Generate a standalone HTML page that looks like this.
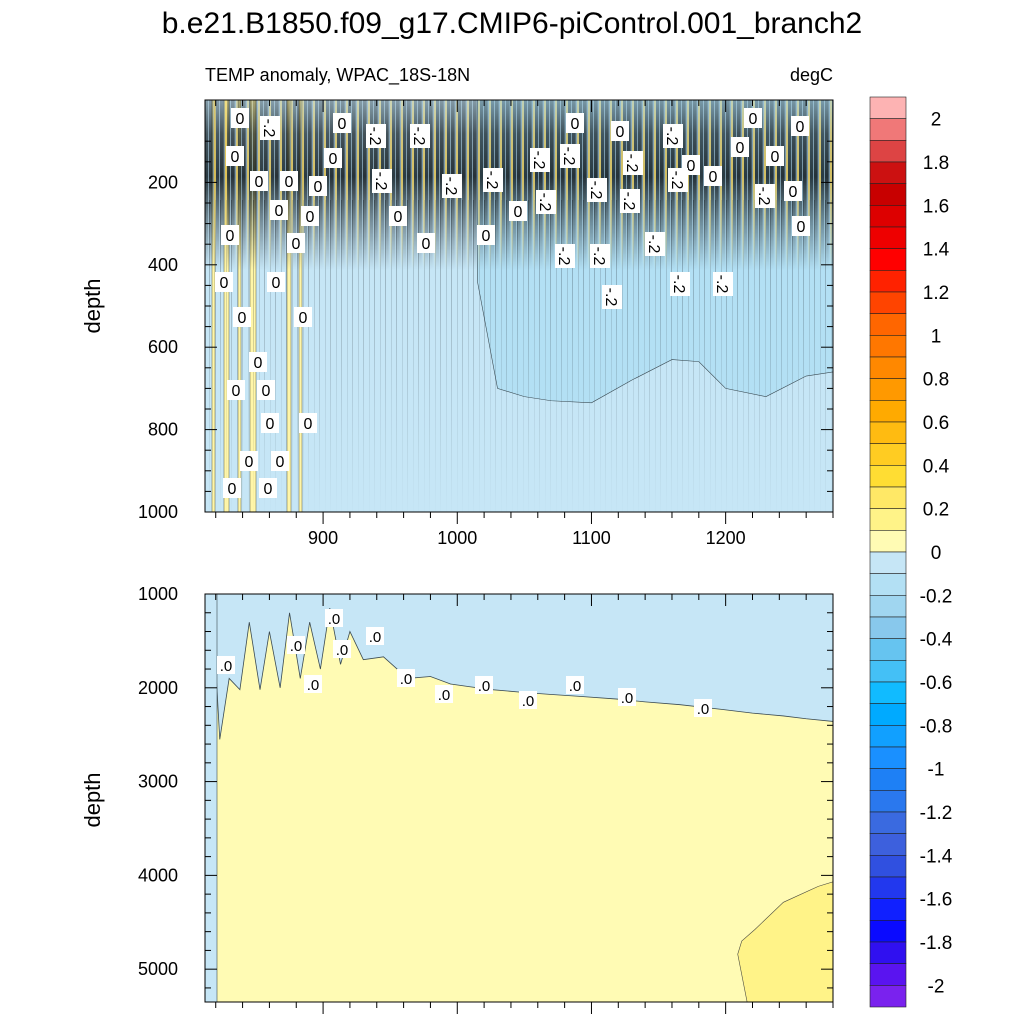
<!DOCTYPE html>
<html><head><meta charset="utf-8">
<style>
body{margin:0;background:#fff;}
svg{display:block;font-family:"Liberation Sans",sans-serif;}
</style></head>
<body>
<svg id="c" width="1024" height="1024" viewBox="0 0 1024 1024">
<defs>
<clipPath id="clipTop"><rect x="205" y="100" width="628" height="412"/></clipPath>
<clipPath id="clipBot"><rect x="205" y="594" width="628" height="408"/></clipPath>
<pattern id="stripes" width="11" height="10" patternUnits="userSpaceOnUse">
<rect x="0" y="0" width="11" height="10" fill="#6a8494"/>
<rect x="0" y="0" width="3" height="10" fill="#0b1216"/>
<rect x="3" y="0" width="1" height="10" fill="#2a3a44"/>
<rect x="5" y="0" width="2" height="10" fill="#d8b848"/>
<rect x="7" y="0" width="3" height="10" fill="#101c22"/>
</pattern>
<pattern id="thin" width="11" height="10" patternUnits="userSpaceOnUse">
<rect x="0" y="0" width="1" height="10" fill="#28323a"/>
<rect x="6" y="0" width="1" height="10" fill="#5a6c78"/>
</pattern>
<linearGradient id="bandFade" x1="0" y1="0" x2="0" y2="1">
<stop offset="0" stop-color="#fff" stop-opacity="0.35"/>
<stop offset="0.2" stop-color="#fff" stop-opacity="0.7"/>
<stop offset="0.45" stop-color="#fff" stop-opacity="0.85"/>
<stop offset="0.7" stop-color="#fff" stop-opacity="0.45"/>
<stop offset="1" stop-color="#fff" stop-opacity="0"/>
</linearGradient>
<mask id="bandMask" maskUnits="userSpaceOnUse" x="205" y="100" width="628" height="170"><rect x="205" y="100" width="628" height="170" fill="url(#bandFade)"/></mask>
<linearGradient id="thinFade" x1="0" y1="0" x2="0" y2="1">
<stop offset="0" stop-color="#fff" stop-opacity="0.35"/>
<stop offset="1" stop-color="#fff" stop-opacity="0"/>
</linearGradient>
<mask id="thinMask" maskUnits="userSpaceOnUse" x="205" y="200" width="628" height="320"><rect x="205" y="200" width="628" height="320" fill="url(#thinFade)"/></mask>
</defs>
<text x="512" y="33" font-size="30" text-anchor="middle">b.e21.B1850.f09_g17.CMIP6-piControl.001_branch2</text>
<text x="205" y="81" font-size="18">TEMP anomaly, WPAC_18S-18N</text>
<text x="833" y="81" font-size="18" text-anchor="end">degC</text>
<text transform="translate(100,306) rotate(-90)" font-size="22" text-anchor="middle">depth</text>
<text transform="translate(100,800) rotate(-90)" font-size="22" text-anchor="middle">depth</text>
<g id="topPanel" clip-path="url(#clipTop)"></g>
<g id="botPanel" clip-path="url(#clipBot)"></g>
<g id="axes"></g>
<g id="cbar"></g>
</svg>
<script>
// ---- data ----
const topYears = [812, 1280];
const topDepth = [0, 1000];
const botDepth = [1000, 5350];
const yTicksTop = [200, 400, 600, 800, 1000];
const yTicksBot = [1000, 2000, 3000, 4000, 5000];
const xTicks = [900, 1000, 1100, 1200];
// darker-blue (-0.2 .. -0.1) region lower edge in top panel
const deepYears = [1015, 1030, 1050, 1070, 1100, 1130, 1160, 1180, 1200, 1230, 1260, 1280];
const deepDepth = [440, 700, 720, 730, 735, 680, 630, 635, 700, 720, 670, 660];
// zero contour in bottom panel
const zeroYears = [817, 823, 830, 838, 845, 853, 860, 868, 875, 883, 890, 898, 905, 913, 920, 930, 945, 963, 980, 995, 1010, 1026, 1050, 1069, 1090, 1119, 1140, 1166, 1197, 1220, 1243, 1260, 1281];
const zeroDepth = [1000, 2550, 1900, 2020, 1300, 2020, 1400, 2000, 1200, 1900, 1300, 1800, 1150, 1750, 1400, 1700, 1670, 1900, 1880, 1960, 1990, 2020, 2050, 2070, 2090, 2120, 2150, 2180, 2230, 2270, 2300, 2330, 2360];
// >0.1 blob in bottom panel
const blobYears = [1216, 1209, 1212, 1222, 1243, 1269, 1281];
const blobDepth = [5350, 4840, 4700, 4574, 4287, 4117, 4064];
const cbLevels = [2, 1.8, 1.6, 1.4, 1.2, 1, 0.8, 0.6, 0.4, 0.2, 0, -0.2, -0.4, -0.6, -0.8, -1, -1.2, -1.4, -1.6, -1.8, -2];
const cbColors = ["#fdb3b3","#f07878","#dd4444","#cc1111","#c80000","#dd0000","#ee0000","#ff0000","#ff2200","#ff4400","#ff6600","#ff7700","#ff8800","#ff9900","#ffaa00","#ffbb11","#ffcc22","#ffdd33","#ffe866","#fff388","#fffbb4",
"#c6e6f6","#b3e0f4","#a0d6f0","#88c8ec","#66c4f0","#44c0f6","#11bbff","#00aaff","#11a0ff","#1a90ff","#1e80f5","#2a78ee","#3a6ae0","#3d60dd","#3050e0","#2238ee","#1020ff","#0a0aff","#3010f0","#5a14f0","#7a22ee"];
const topLabels = [["0",240,118,0],["-.2",270,128,90],["0",342,123,0],["-.2",376,136,90],["-.2",420,136,90],["0",235,156,0],["0",333,158,0],["0",259,181,0],["0",289,181,0],["0",318,186,0],["-.2",382,181,90],["-.2",452,186,90],["-.2",493,180,90],["-.2",540,160,90],["-.2",570,156,90],["0",575,123,0],["0",620,131,0],["-.2",673,136,90],["-.2",633,163,90],["0",691,165,0],["-.2",678,180,90],["0",713,176,0],["-.2",597,190,90],["-.2",630,201,90],["-.2",546,202,90],["0",740,147,0],["0",753,118,0],["0",800,126,0],["0",775,156,0],["-.2",765,196,90],["0",793,191,0],["0",801,226,0],["0",279,210,0],["0",310,216,0],["0",398,216,0],["0",518,211,0],["0",486,235,0],["0",426,243,0],["0",230,235,0],["-.2",565,256,90],["-.2",600,256,90],["-.2",655,244,90],["0",296,243,0],["0",224,282,0],["0",276,282,0],["-.2",680,284,90],["-.2",723,284,90],["-.2",612,297,90],["0",242,317,0],["0",303,317,0],["0",258,362,0],["0",236,390,0],["0",266,390,0],["0",270,423,0],["0",308,423,0],["0",249,461,0],["0",280,461,0],["0",232,488,0],["0",268,488,0]];
const botLabels = [[226,665],[296,645],[334,618],[342,649],[375,636],[313,684],[406,678],[444,694],[484,685],[528,700],[575,685],[627,697],[703,708]];

// ---- scales ----
const X0=205, X1=833;
const xs = v => X0 + (v-topYears[0])/(topYears[1]-topYears[0])*(X1-X0);
const yT = d => 100 + (d-topDepth[0])/(topDepth[1]-topDepth[0])*412;
const yB = d => 594 + (d-botDepth[0])/(botDepth[1]-botDepth[0])*408;
const NS="http://www.w3.org/2000/svg";
function mk(tag, attrs, parent){const e=document.createElementNS(NS,tag);for(const k in attrs)e.setAttribute(k,attrs[k]);parent.appendChild(e);return e;}

// ---- top panel ----
const topG=document.getElementById('topPanel');
let r=mk('rect',{x:205,y:100,width:628,height:412,fill:'#c6e6f6'},topG);


let pts=deepYears.map((y,i)=>xs(y)+','+yT(deepDepth[i])).join(' ');
pts = xs(deepYears[0])+','+yT(0)+' '+pts+' '+xs(1280)+','+yT(0);
let p=mk('polygon',{points:pts,fill:'#b3e0f4',stroke:'#3a4a52','stroke-width':0.6},topG);


[[212,3],[224,5],[238,3],[250,6],[287,4],[299,3]].forEach(s=>{
  const e=mk('rect',{x:s[0],y:100,width:s[1],height:412,fill:'#fff6a8',stroke:'#5a5a40','stroke-width':0.5},topG);
  
  
});
let t=mk('rect',{x:205,y:200,width:628,height:320,fill:'url(#thin)',mask:'url(#thinMask)'},topG);


let b=mk('rect',{x:205,y:100,width:628,height:170,fill:'url(#stripes)',mask:'url(#bandMask)'},topG);


topLabels.forEach(l=>{
  const g=mk('g',{transform:`translate(${l[1]},${l[2]}) rotate(${l[3]})`},topG);
  
  
  const w=l[0].length>1?24:18;
  mk('rect',{x:-w/2,y:-10,width:w,height:20,fill:'#fff'},g);
  mk('text',{x:0,y:6,'font-size':16,'text-anchor':'middle'},g).textContent=l[0];
});

// ---- bottom panel ----
const botG=document.getElementById('botPanel');
r=mk('rect',{x:205,y:594,width:628,height:408,fill:'#fffbb4'},botG);


pts=zeroYears.map((y,i)=>xs(y)+','+yB(zeroDepth[i])).join(' ');
pts=xs(812)+','+yB(1000)+' '+pts+' '+xs(1281)+','+yB(1000);
p=mk('polygon',{points:pts,fill:'#c6e6f6',stroke:'#3a4a52','stroke-width':0.8},botG);


r=mk('rect',{x:205,y:594,width:12,height:408,fill:'#c6e6f6',stroke:'#3a4a52','stroke-width':0.6},botG);


pts=blobYears.map((y,i)=>xs(y)+','+yB(blobDepth[i])).join(' ')+' '+xs(1281)+','+yB(5350);
p=mk('polygon',{points:pts,fill:'#fff388',stroke:'#4a4a40','stroke-width':0.6},botG);


botLabels.forEach(l=>{
  const g=mk('g',{transform:`translate(${l[0]},${l[1]})`},botG);
  
  
  mk('rect',{x:-9,y:-9,width:18,height:18,fill:'#fff'},g);
  mk('text',{x:0,y:6,'font-size':15,'text-anchor':'middle'},g).textContent='.0';
});

// ---- axes ----
const ax=document.getElementById('axes');
function frame(y0,h,name){
  const f=mk('rect',{x:205,y:y0,width:628,height:h,fill:'none',stroke:'#000','stroke-width':1},ax);
  
  
}
frame(100,412,'top-plot-frame');frame(594,408,'bottom-plot-frame');
for(let v=820; v<=1280; v+=20){
  const x=xs(v), maj=xTicks.includes(v);
  const L=maj?12:6;
  [[100,1],[512,1],[594,1],[1002,1]].forEach(a=>mk('line',{x1:x,y1:a[0],x2:x,y2:a[0]+a[1]*L,stroke:'#000','stroke-width':1},ax));
  if(maj){
    const tl=mk('text',{x:x,y:544,'font-size':18,'text-anchor':'middle'},ax);
    
    
    tl.textContent=v;
  }
}
for(let d=100; d<=1000; d+=50){
  const y=yT(d), maj=yTicksTop.includes(d), L=maj?12:6;
  mk('line',{x1:205,y1:y,x2:205+L,y2:y,stroke:'#000'},ax);
  mk('line',{x1:833,y1:y,x2:833-L,y2:y,stroke:'#000'},ax);
  if(maj){const tl=mk('text',{x:178,y:y+6,'font-size':18,'text-anchor':'end'},ax);
    
    
    tl.textContent=d;}
}
for(let d=1000; d<=5350; d+=200){
  const y=yB(d), maj=yTicksBot.includes(d), L=maj?12:6;
  mk('line',{x1:205,y1:y,x2:205+L,y2:y,stroke:'#000'},ax);
  mk('line',{x1:833,y1:y,x2:833-L,y2:y,stroke:'#000'},ax);
  if(maj){const tl=mk('text',{x:178,y:y+6,'font-size':18,'text-anchor':'end'},ax);
    
    
    tl.textContent=d;}
}

// ---- colorbar ----
const cb=document.getElementById('cbar');
const cbTop=97, cbH=910, bh=cbH/cbColors.length;
cbColors.forEach((c,i)=>{
  const e=mk('rect',{x:870,y:cbTop+i*bh,width:36,height:bh,fill:c,stroke:'#222','stroke-width':0.6},cb);
  
  
});
cbLevels.forEach((v,i)=>{
  const y=cbTop+bh*(1+2*i);
  const tl=mk('text',{x:936,y:y+7,'font-size':19,'text-anchor':'middle'},cb);
  
  
  tl.textContent=v;
});
</script>
</body></html>
